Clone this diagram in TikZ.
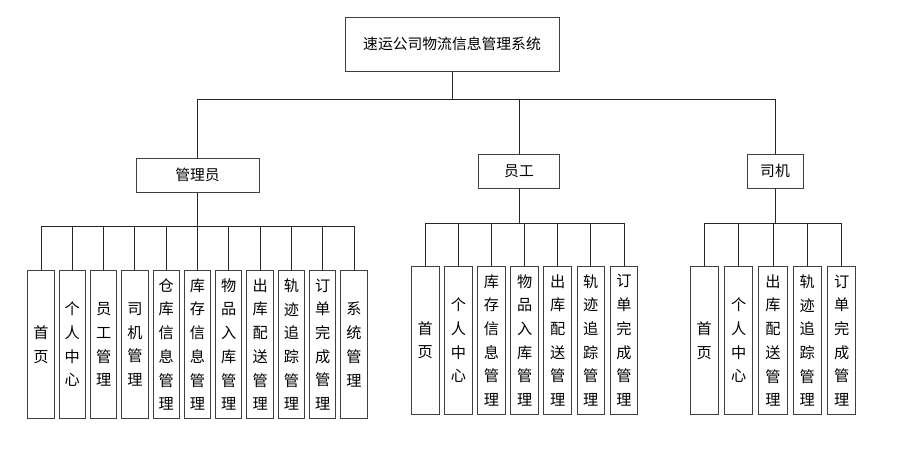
\documentclass[tikz,border=0pt]{standalone}
\usepackage{fontspec}
\setmainfont{Noto Sans CJK SC}
\tikzset{
  box/.style={draw=black!75, line width=1pt, fill=white, inner sep=0pt, font=\fontsize{14.8}{17}\selectfont},
  leaf/.style={box, minimum height=147.5pt, align=center, font=\fontsize{15.2}{23.7}\selectfont},
  link/.style={draw=black!85, line width=0.9pt}
}

\begin{document}
\begin{tikzpicture}[x=1pt, y=-1pt]
    \useasboundingbox (0,0) rectangle (908,450);
    % Radice
    \node[box, minimum width=214pt, minimum height=54pt] (Sys) at (452,44) {速运公司物流信息管理系统};
    % Ruoli
    \node[box, minimum width=123pt, minimum height=34pt] (Admin) at (197.5,175) {管理员};
    \node[box, minimum width=81pt, minimum height=34pt] (Staff) at (519,171.3) {员工};
    \node[box, minimum width=56pt, minimum height=34pt] (Driver) at (775,171.3) {司机};
    \coordinate (SysBus) at (452,99.3);
    \draw[link] (Sys.south) -- (SysBus);
    \draw[link] (SysBus) -| (Admin.north);
    \draw[link] (SysBus) -| (Staff.north);
    \draw[link] (SysBus) -| (Driver.north);

    % Moduli amministratore
    \coordinate (AdminBus) at (197.5,226.7);
    \draw[link] (Admin.south) -- (AdminBus);
    \node[leaf, minimum width=26.3pt] (Adm1) at (41,344.5) {首\\页};
    \node[leaf, minimum width=26.3pt] (Adm2) at (72.3,344.5) {个\\人\\中\\心};
    \node[leaf, minimum width=26.3pt] (Adm3) at (103.6,344.5) {员\\工\\管\\理};
    \node[leaf, minimum width=26.3pt] (Adm4) at (134.9,344.5) {司\\机\\管\\理};
    \node[leaf, minimum width=26.3pt] (Adm5) at (166.2,344.5) {仓\\库\\信\\息\\管\\理};
    \node[leaf, minimum width=26.3pt] (Adm6) at (197.5,344.5) {库\\存\\信\\息\\管\\理};
    \node[leaf, minimum width=26.3pt] (Adm7) at (228.8,344.5) {物\\品\\入\\库\\管\\理};
    \node[leaf, minimum width=26.3pt] (Adm8) at (260.1,344.5) {出\\库\\配\\送\\管\\理};
    \node[leaf, minimum width=26.3pt] (Adm9) at (291.4,344.5) {轨\\迹\\追\\踪\\管\\理};
    \node[leaf, minimum width=26.3pt] (Adm10) at (322.7,344.5) {订\\单\\完\\成\\管\\理};
    \node[leaf, minimum width=26.3pt] (Adm11) at (354,344.5) {系\\统\\管\\理};
    \draw[link] (AdminBus) -| (Adm1.north);
    \draw[link] (AdminBus) -| (Adm2.north);
    \draw[link] (AdminBus) -| (Adm3.north);
    \draw[link] (AdminBus) -| (Adm4.north);
    \draw[link] (AdminBus) -| (Adm5.north);
    \draw[link] (AdminBus) -| (Adm6.north);
    \draw[link] (AdminBus) -| (Adm7.north);
    \draw[link] (AdminBus) -| (Adm8.north);
    \draw[link] (AdminBus) -| (Adm9.north);
    \draw[link] (AdminBus) -| (Adm10.north);
    \draw[link] (AdminBus) -| (Adm11.north);

    % Moduli dipendente
    \coordinate (StaffBus) at (519,223.7);
    \draw[link] (Staff.south) -- (StaffBus);
    \node[leaf, minimum width=27.6pt] (Stf1) at (425.3,340.3) {首\\页};
    \node[leaf, minimum width=27.6pt] (Stf2) at (458.4,340.3) {个\\人\\中\\心};
    \node[leaf, minimum width=27.6pt] (Stf3) at (491.5,340.3) {库\\存\\信\\息\\管\\理};
    \node[leaf, minimum width=27.6pt] (Stf4) at (524.6,340.3) {物\\品\\入\\库\\管\\理};
    \node[leaf, minimum width=27.6pt] (Stf5) at (557.7,340.3) {出\\库\\配\\送\\管\\理};
    \node[leaf, minimum width=27.6pt] (Stf6) at (590.8,340.3) {轨\\迹\\追\\踪\\管\\理};
    \node[leaf, minimum width=27.6pt] (Stf7) at (624,340.3) {订\\单\\完\\成\\管\\理};
    \draw[link] (StaffBus) -| (Stf1.north);
    \draw[link] (StaffBus) -| (Stf2.north);
    \draw[link] (StaffBus) -| (Stf3.north);
    \draw[link] (StaffBus) -| (Stf4.north);
    \draw[link] (StaffBus) -| (Stf5.north);
    \draw[link] (StaffBus) -| (Stf6.north);
    \draw[link] (StaffBus) -| (Stf7.north);

    % Moduli autista
    \coordinate (DriverBus) at (775,223.3);
    \draw[link] (Driver.south) -- (DriverBus);
    \node[leaf, minimum width=28.4pt] (Drv1) at (704.3,340.5) {首\\页};
    \node[leaf, minimum width=28.4pt] (Drv2) at (738.6,340.5) {个\\人\\中\\心};
    \node[leaf, minimum width=28.4pt] (Drv3) at (773,340.5) {出\\库\\配\\送\\管\\理};
    \node[leaf, minimum width=28.4pt] (Drv4) at (807.3,340.5) {轨\\迹\\追\\踪\\管\\理};
    \node[leaf, minimum width=28.4pt] (Drv5) at (841.7,340.5) {订\\单\\完\\成\\管\\理};
    \draw[link] (DriverBus) -| (Drv1.north);
    \draw[link] (DriverBus) -| (Drv2.north);
    \draw[link] (DriverBus) -| (Drv3.north);
    \draw[link] (DriverBus) -| (Drv4.north);
    \draw[link] (DriverBus) -| (Drv5.north);
\end{tikzpicture}
\end{document}
